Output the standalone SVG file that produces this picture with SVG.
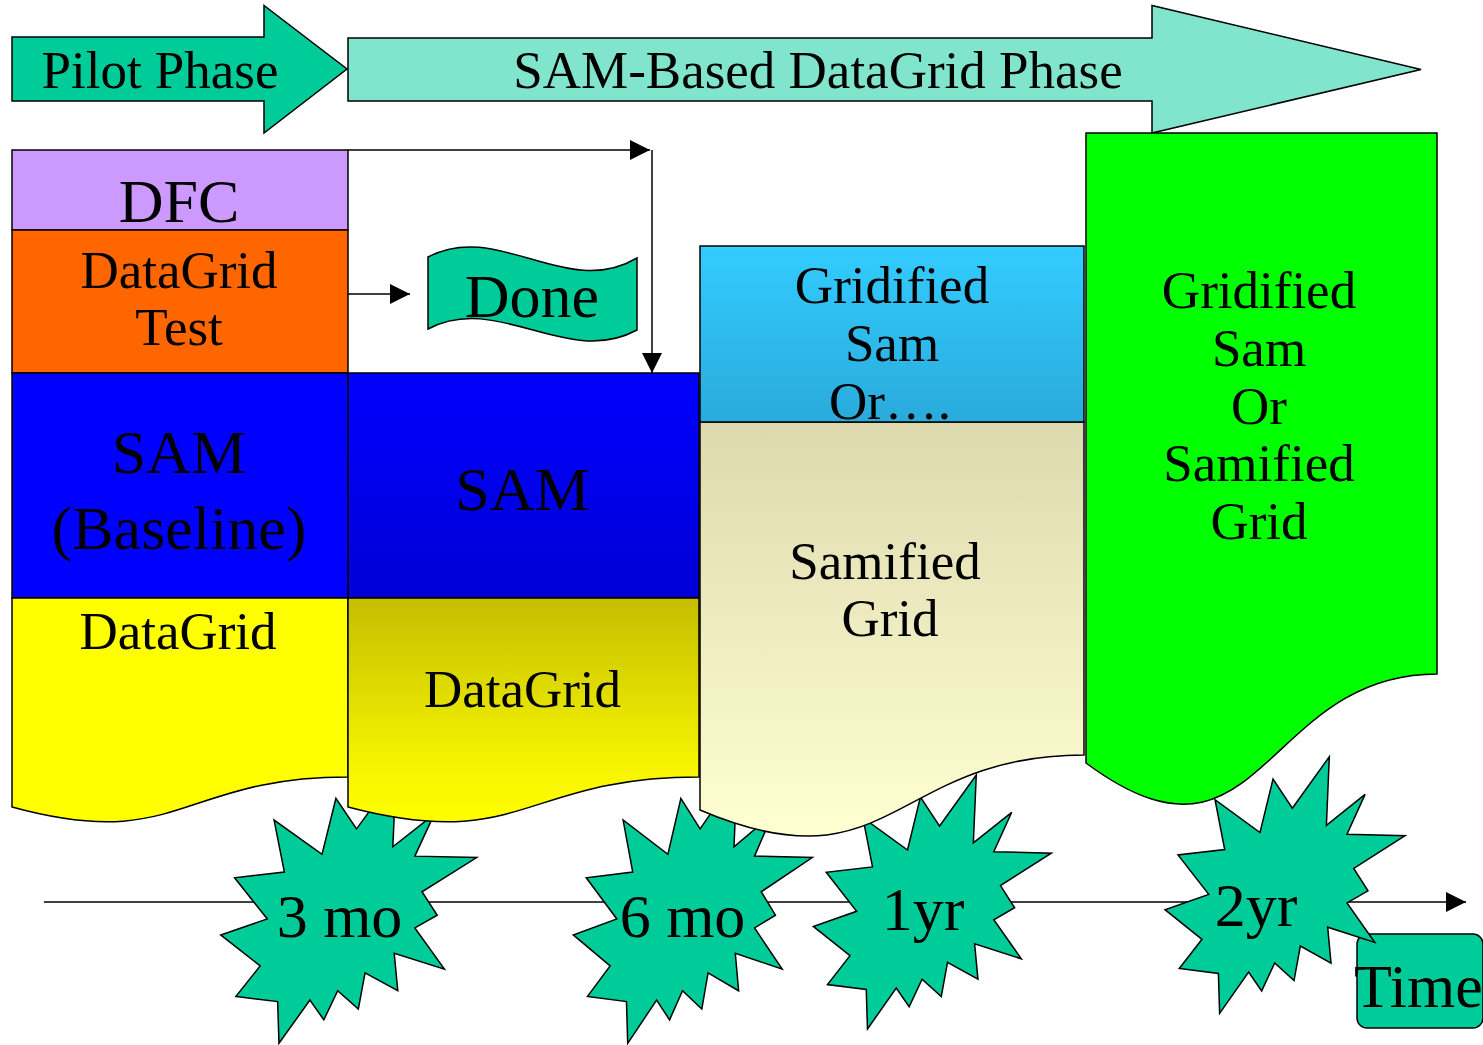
<svg xmlns="http://www.w3.org/2000/svg" width="1483" height="1045" viewBox="0 0 1483 1045">
<style>
text{font-family:"Liberation Serif","Times New Roman",serif;fill:#000;text-anchor:middle}
.t53{font-size:53px}
.t62{font-size:62px}
.bx{stroke:#000;stroke-width:1.5}
.star{fill:#00CC99;stroke:#000;stroke-width:1.5}
.ln{fill:none;stroke:#000;stroke-width:1.5}
</style>
<defs>
<marker id="ah" markerUnits="userSpaceOnUse" markerWidth="20" markerHeight="20" refX="20" refY="10" orient="auto">
<path d="M0,0 L20,10 L0,20 Z" fill="#000"/>
</marker>
<path id="burst" vector-effect="non-scaling-stroke" d="M11462,4342 L14790,0 L14525,5777 L18007,3172 L16380,6532 L21600,6645 L16985,9402 L18270,11290 L16380,12310 L18877,15632 L14640,14350 L14942,17370 L12180,15935 L11612,18842 L9872,17370 L8700,19712 L7527,18125 L4917,21600 L4805,18240 L1285,17825 L3330,15370 L0,12877 L3935,11592 L1172,8270 L5372,7817 L4502,3625 L8550,6382 L9722,1887 Z"/>
<linearGradient id="gBlue" x1="0" y1="0" x2="0" y2="1"><stop offset="0" stop-color="#0000FF"/><stop offset="1" stop-color="#0000D6"/></linearGradient>
<linearGradient id="gYel" x1="0" y1="0" x2="0" y2="1"><stop offset="0" stop-color="#C4BE00"/><stop offset="0.75" stop-color="#F6F400"/><stop offset="1" stop-color="#FFFF00"/></linearGradient>
<linearGradient id="gCyan" x1="0" y1="0" x2="0" y2="1"><stop offset="0" stop-color="#33CCFF"/><stop offset="1" stop-color="#29ABDB"/></linearGradient>
<linearGradient id="gBeige" x1="0" y1="0" x2="0" y2="1"><stop offset="0" stop-color="#DCD9AE"/><stop offset="1" stop-color="#FFFFD2"/></linearGradient>
</defs>
<rect width="1483" height="1045" fill="#fff"/>

<g id="connectors">
<path class="ln" d="M44,902 H1466" marker-end="url(#ah)"/>
<path class="ln" d="M348,150 H650" marker-end="url(#ah)"/>
<path class="ln" d="M652,150 V373" marker-end="url(#ah)"/>
<path class="ln" d="M348,294 H410" marker-end="url(#ah)"/>
</g>

<g id="time-label">
<rect class="bx" x="1357" y="934" width="126" height="94" rx="10" fill="#00CC99"/>
<text class="t62" x="1354" y="1007" style="text-anchor:start">Time</text>
</g>

<g id="milestone-3mo">
<use href="#burst" class="star" transform="translate(220.7,775) scale(0.011852,0.012421)"/>
<text class="t62" x="339.5" y="937">3 mo</text>
</g>
<g id="milestone-6mo">
<use href="#burst" class="star" transform="translate(573.3,775) scale(0.011065,0.012421)"/>
<text class="t62" x="682.5" y="937">6 mo</text>
</g>
<g id="milestone-1yr">
<use href="#burst" class="star" transform="translate(813.3,775) scale(0.011019,0.011759)"/>
<text class="t62" x="923" y="930">1yr</text>
</g>
<g id="milestone-2yr">
<use href="#burst" class="star" transform="translate(1165,756.7) scale(0.011111,0.01188)"/>
<text class="t62" x="1256" y="926">2yr</text>
</g>

<g id="pilot-phase">
<path class="bx" fill="#00CC99" d="M12,37 H264 V5.5 L347,69 L264,133 V101 H12 Z"/>
<text class="t53" x="160" y="88">Pilot Phase</text>
</g>
<g id="sam-phase">
<path class="bx" fill="#80E5CC" d="M348,38 H1152 V5.5 L1421,69.5 L1152,133 V101 H348 Z"/>
<text class="t53" x="818" y="88">SAM-Based DataGrid Phase</text>
</g>

<g id="dfc">
<rect class="bx" x="12" y="150" width="336" height="80" fill="#CC99FF"/>
<text class="t62" x="179" y="222">DFC</text>
</g>
<g id="datagrid-test">
<rect class="bx" x="12" y="230" width="336" height="143" fill="#FF6600"/>
<text class="t53" x="179" y="288">DataGrid</text>
<text class="t53" x="179" y="345">Test</text>
</g>
<g id="sam-baseline">
<rect class="bx" x="12" y="373" width="336" height="225" fill="#0000FF"/>
<text class="t62" x="179" y="473">SAM</text>
<text class="t62" x="179" y="549">(Baseline)</text>
</g>
<g id="datagrid-1">
<path class="bx" fill="#FFFF00" d="M12,598 H348 V777 C180,777 180,853 12,807 Z"/>
<text class="t53" x="178" y="649">DataGrid</text>
</g>

<g id="sam-2">
<rect class="bx" x="348" y="373" width="351" height="225" fill="url(#gBlue)"/>
<text class="t62" x="522.5" y="510">SAM</text>
</g>
<g id="datagrid-2">
<path class="bx" fill="url(#gYel)" d="M348,598 H699 V777 C523,777 523,853 348,807 Z"/>
<text class="t53" x="522.5" y="707">DataGrid</text>
</g>

<g id="done">
<path class="bx" fill="#00CC99" d="M428,257 C498,220 567,300 637,258 L637,330 C567,368 498,292 428,329 Z"/>
<text class="t62" x="532" y="317">Done</text>
</g>

<g id="samified-grid">
<path class="bx" fill="url(#gBeige)" d="M700,422 H1084 V755 C892,755 892,892 700,810 Z"/>
<text class="t53" x="885" y="579">Samified</text>
<text class="t53" x="890" y="636">Grid</text>
</g>
<g id="gridified-sam">
<rect class="bx" x="700" y="246" width="384" height="176" fill="url(#gCyan)"/>
<text class="t53" x="892" y="303">Gridified</text>
<text class="t53" x="892" y="361">Sam</text>
<text class="t53" x="890" y="419">Or….</text>
</g>

<g id="final-phase">
<path class="bx" fill="#00FF00" d="M1086,133 H1437 V674 C1261.5,674 1261.5,893 1086,763 Z"/>
<text class="t53" x="1259" y="307.5">Gridified</text>
<text class="t53" x="1259" y="365.5">Sam</text>
<text class="t53" x="1259" y="423.5">Or</text>
<text class="t53" x="1259" y="481">Samified</text>
<text class="t53" x="1259" y="539">Grid</text>
</g>
</svg>
